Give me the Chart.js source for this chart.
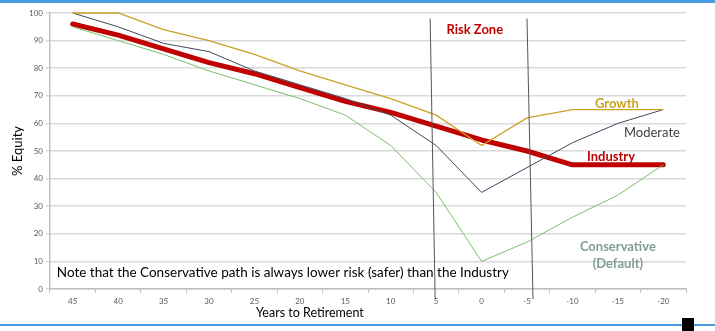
<!DOCTYPE html>
<html>
<head>
<meta charset="utf-8">
<script src="https://cdn.jsdelivr.net/npm/chart.js@4/dist/chart.umd.min.js"></script>
<style>
  html, body { margin: 0; padding: 0; background: #fff; }
  #wrap { position: relative; width: 715px; height: 331px; overflow: hidden; }
  #topbar { position: absolute; left: 0; top: 0; width: 715px; height: 3px; background: #4a9be0; }
  #botline { position: absolute; left: 0; top: 324px; width: 715px; height: 2px; background: #4a9be0; }
  #square { position: absolute; left: 682px; top: 318px; width: 12px; height: 13px; background: #000; }
</style>
</head>
<body>
<div id="wrap">
  <canvas id="myChart" width="715" height="331"></canvas>
  <div id="topbar"></div>
  <div id="botline"></div>
  <div id="square"></div>
</div>
<script>
const years = ['45', '40', '35', '30', '25', '20', '15', '10', '5', '0', '-5', '-10', '-15', '-20'];
const industry = [96, 92, 87, 82, 78, 73, 68, 64, 59, 54, 50, 45, 45, 45];
const moderate = [100, 95, 89, 86, 79, 74, 69, 63, 52, 35, 44, 53, 60, 65];
const growth = [100, 100, 94, 90, 85, 79, 74, 69, 63, 52, 62, 65, 65, 65];
const conservative = [95, 90, 85, 79, 74, 69, 63, 52, 35, 10, 17, 26, 34, 45];
const yTicks = [0, 10, 20, 30, 40, 50, 60, 70, 80, 90, 100];

// text notes drawn on top of the plot, placed in data units
const notes = [
  { text: 'Risk Zone', x: 8.85, y: 93.8, font: 'bold 13px Lato', color: '#c00000', align: 'center' },
  { text: 'Growth', x: 11.98, y: 67, font: 'bold 13px Lato', color: '#c9a227', align: 'center' },
  { text: 'Moderate', x: 12.75, y: 56.5, font: '13px Lato', color: '#404040', align: 'center' },
  { text: 'Industry', x: 11.85, y: 47.8, font: 'bold 13px Lato', color: '#c00000', align: 'center' },
  { text: 'Conservative', x: 12.0, y: 15.2, font: 'bold 13px Lato', color: '#7f9f8f', align: 'center' },
  { text: '(Default)', x: 12.0, y: 9.0, font: 'bold 13px Lato', color: '#7f9f8f', align: 'center' },
  { text: 'Note that the Conservative path is always lower risk (safer) than the Industry', x: -0.35, y: 5.8, font: '13.5px Lato', color: '#000', align: 'left' },
  { text: 'Years to Retirement', x: 5.22, y: -8.7, font: '12.5px Lato', color: '#000', align: 'center' }
];

const riskLines = {
  id: 'riskLines',
  afterDatasetsDraw(chart) {
    const ctx = chart.ctx;
    const xs = chart.scales.x, ys = chart.scales.y;
    const a = chart.chartArea;
    ctx.save();
    ctx.strokeStyle = '#555';
    ctx.lineWidth = 1;
    // two hand-drawn looking lines around 5 and -5 years
    [[8, -6, -1], [10, 0, 6]].forEach(function (l) {
      const x = xs.getPixelForValue(l[0]);
      ctx.beginPath();
      ctx.moveTo(x + l[1], ys.getPixelForValue(98));
      ctx.lineTo(x + l[2], a.bottom + 10);
      ctx.stroke();
    });
    ctx.textBaseline = 'middle';
    notes.forEach(function (n) {
      ctx.font = n.font;
      ctx.fillStyle = n.color;
      ctx.textAlign = n.align;
      ctx.fillText(n.text, xs.getPixelForValue(n.x), ys.getPixelForValue(n.y));
    });
    ctx.restore();
  }
};

const data = {
  labels: years,
  datasets: [
    { label: 'Conservative', data: conservative, borderColor: '#7cbf6a', borderWidth: 1 },
    { label: 'Growth', data: growth, borderColor: '#c9a227', borderWidth: 1.3 },
    { label: 'Moderate', data: moderate, borderColor: '#3c4a5c', borderWidth: 1 },
    { label: 'Industry', data: industry, borderColor: '#c00000', borderWidth: 5, borderCapStyle: 'round', borderJoinStyle: 'round' }
  ]
};

const config = {
  type: 'line',
  data: data,
  options: {
    responsive: false,
    animation: false,
    layout: { padding: { top: 13, right: 29, left: 0, bottom: 0 } },
    elements: { point: { radius: 0 }, line: { tension: 0, fill: false } },
    datasets: { line: { clip: false } },
    plugins: { legend: { display: false }, tooltip: { enabled: false } },
    scales: {
      x: {
        offset: true,
        afterFit: function (s) { s.height = 42; },
        grid: { offset: true, drawOnChartArea: false, drawTicks: true, tickLength: 4, color: '#bfbfbf' },
        border: { color: '#bfbfbf', width: 1.5 },
        ticks: { font: { family: 'Lato', size: 8 }, color: '#595959', padding: 4, maxRotation: 0, autoSkip: false }
      },
      y: {
        min: 0,
        max: 100,
        afterFit: function (s) { s.width = 50; },
        afterBuildTicks: function (s) { s.ticks = yTicks.map(v => ({ value: v })); },
        grid: { color: '#d9d9d9', lineWidth: 1.5, tickLength: 4 },
        border: { color: '#bfbfbf', width: 1.5 },
        ticks: { font: { family: 'Lato', size: 8 }, color: '#595959', padding: 3 },
        title: { display: true, text: '% Equity', font: { family: 'Lato', size: 13 }, color: '#000', padding: { top: 10, bottom: 0 } }
      }
    }
  },
  plugins: [riskLines]
};

const myChart = new Chart(document.getElementById('myChart'), config);
</script>
</body>
</html>
